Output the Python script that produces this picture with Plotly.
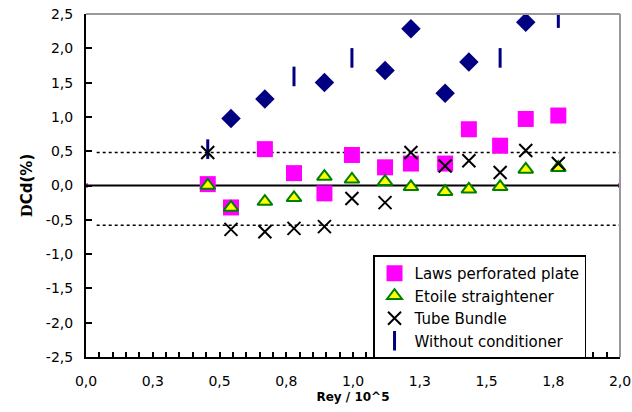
import plotly.graph_objects as go

# Reynolds number (x 10^5) at each measurement point
rey = [0.456, 0.543, 0.670, 0.779, 0.893, 0.996, 1.120, 1.217, 1.345, 1.434, 1.551, 1.647, 1.769]

# Discharge-coefficient deviation (%) per flow conditioner
laws_plate = [0.02, -0.32, 0.53, 0.18, -0.115, 0.445, 0.265, 0.32, 0.32, 0.82, 0.58, 0.97, 1.02]
etoile = [0.0, -0.32, -0.235, -0.18, 0.13, 0.09, 0.055, -0.02, -0.09, -0.055, -0.02, 0.235, 0.26]
tube_bundle = [0.48, -0.64, -0.675, -0.625, -0.60, -0.19, -0.25, 0.48, 0.285, 0.36, 0.19, 0.51, 0.32]

# Without conditioner (measured at fewer Reynolds numbers)
rey_without = [0.456, 0.779, 0.996, 1.551, 1.769]
without_cond = [0.53, 1.59, 1.86, 1.86, 2.44]

# Unlabelled reference series
rey_ref = [0.543, 0.670, 0.893, 1.120, 1.217, 1.345, 1.434, 1.647]
ref_series = [0.975, 1.26, 1.50, 1.676, 2.285, 1.346, 1.80, 2.38]

# Zero line and tolerance band
zero_x = [0.0, 2.0]
zero_y = [0.0, 0.0]
band_x = [0.04, 2.0]
band_upper = [0.48, 0.48]
band_lower = [-0.58, -0.58]

# Axis ticks
x_tickvals = [0.0, 0.25, 0.5, 0.75, 1.0, 1.25, 1.5, 1.75, 2.0]
x_ticktext = ["0,0", "0,3", "0,5", "0,8", "1,0", "1,3", "1,5", "1,8", "2,0"]
y_tickvals = [-2.5, -2.0, -1.5, -1.0, -0.5, 0.0, 0.5, 1.0, 1.5, 2.0, 2.5]
y_ticktext = ["-2,5", "-2,0", "-1,5", "-1,0", "-0,5", "0,0", "0,5", "1,0", "1,5", "2,0", "2,5"]

FONT = "DejaVu Sans"

fig = go.Figure()

fig.add_trace(go.Scatter(
    x=zero_x, y=zero_y, mode="lines+markers", showlegend=False,
    line=dict(color="black", width=1.8),
    marker=dict(symbol="square", size=4, color="#800080"),
    hoverinfo="skip",
))
for yb in (band_upper, band_lower):
    fig.add_trace(go.Scatter(
        x=band_x, y=yb, mode="lines", showlegend=False,
        line=dict(color="black", width=1.5, dash="dot"),
        hoverinfo="skip",
    ))

fig.add_trace(go.Scatter(
    x=rey_ref, y=ref_series, mode="markers", showlegend=False,
    marker=dict(symbol="diamond", size=15, color="#000080"),
))
fig.add_trace(go.Scatter(
    x=rey_without, y=without_cond, mode="markers", name="Without conditioner",
    legendrank=4,
    marker=dict(symbol="line-ns", size=14, color="#000080",
                line=dict(color="#000080", width=3)),
))
fig.add_trace(go.Scatter(
    x=rey, y=laws_plate, mode="markers", name="Laws perforated plate",
    legendrank=1,
    marker=dict(symbol="square", size=16, color="#FF00FF"),
))
fig.add_trace(go.Scatter(
    x=rey, y=etoile, mode="markers", name="Etoile straightener",
    legendrank=2,
    marker=dict(symbol="triangle-up", size=13, color="#FFFF00",
                line=dict(color="#008000", width=2)),
))
fig.add_trace(go.Scatter(
    x=rey, y=tube_bundle, mode="markers", name="Tube Bundle",
    legendrank=3,
    marker=dict(symbol="x-thin", size=13, color="black",
                line=dict(color="black", width=2)),
))

# Grey frame on the top and right sides
fig.add_shape(type="line", xref="paper", yref="paper", x0=0, x1=1, y0=1, y1=1,
              line=dict(color="#999999", width=2))
fig.add_shape(type="line", xref="paper", yref="paper", x0=1, x1=1, y0=0, y1=1,
              line=dict(color="#999999", width=2))

fig.update_layout(
    template="none",
    width=632, height=412,
    margin=dict(l=86, r=12, t=14, b=55, pad=0),
    paper_bgcolor="white", plot_bgcolor="white",
    font=dict(family=FONT, size=14, color="black"),
    showlegend=True,
    legend=dict(
        x=0.5375, y=0.296, xanchor="left", yanchor="top",
        bgcolor="white", bordercolor="black", borderwidth=1.5,
        font=dict(family=FONT, size=15, color="black"),
        itemwidth=30, tracegroupgap=0,
    ),
    xaxis=dict(
        range=[0, 2], tickvals=x_tickvals, ticktext=x_ticktext,
        showgrid=False, zeroline=False, automargin=False,
        showline=True, linecolor="black", linewidth=2,
        ticks="inside", ticklen=5, tickwidth=1.5, tickcolor="black",
        minor=dict(dtick=0.05, ticks="inside", ticklen=5, tickwidth=1.5, tickcolor="black"),
        ticklabelstandoff=10,
        title=dict(text="<b>Rey / 10^5</b>", font=dict(family=FONT, size=12), standoff=5),
    ),
    yaxis=dict(
        range=[-2.5, 2.5], tickvals=y_tickvals, ticktext=y_ticktext,
        showgrid=False, zeroline=False, automargin=False,
        showline=True, linecolor="black", linewidth=2,
        ticks="inside", ticklen=6, tickwidth=1.5, tickcolor="black",
        ticklabelstandoff=8,
        title=dict(text="<b><span style='font-family:DejaVu Serif'>D</span>Cd(%)</b>",
                   font=dict(family=FONT, size=15), standoff=10),
    ),
)

fig.write_html("out.html")
